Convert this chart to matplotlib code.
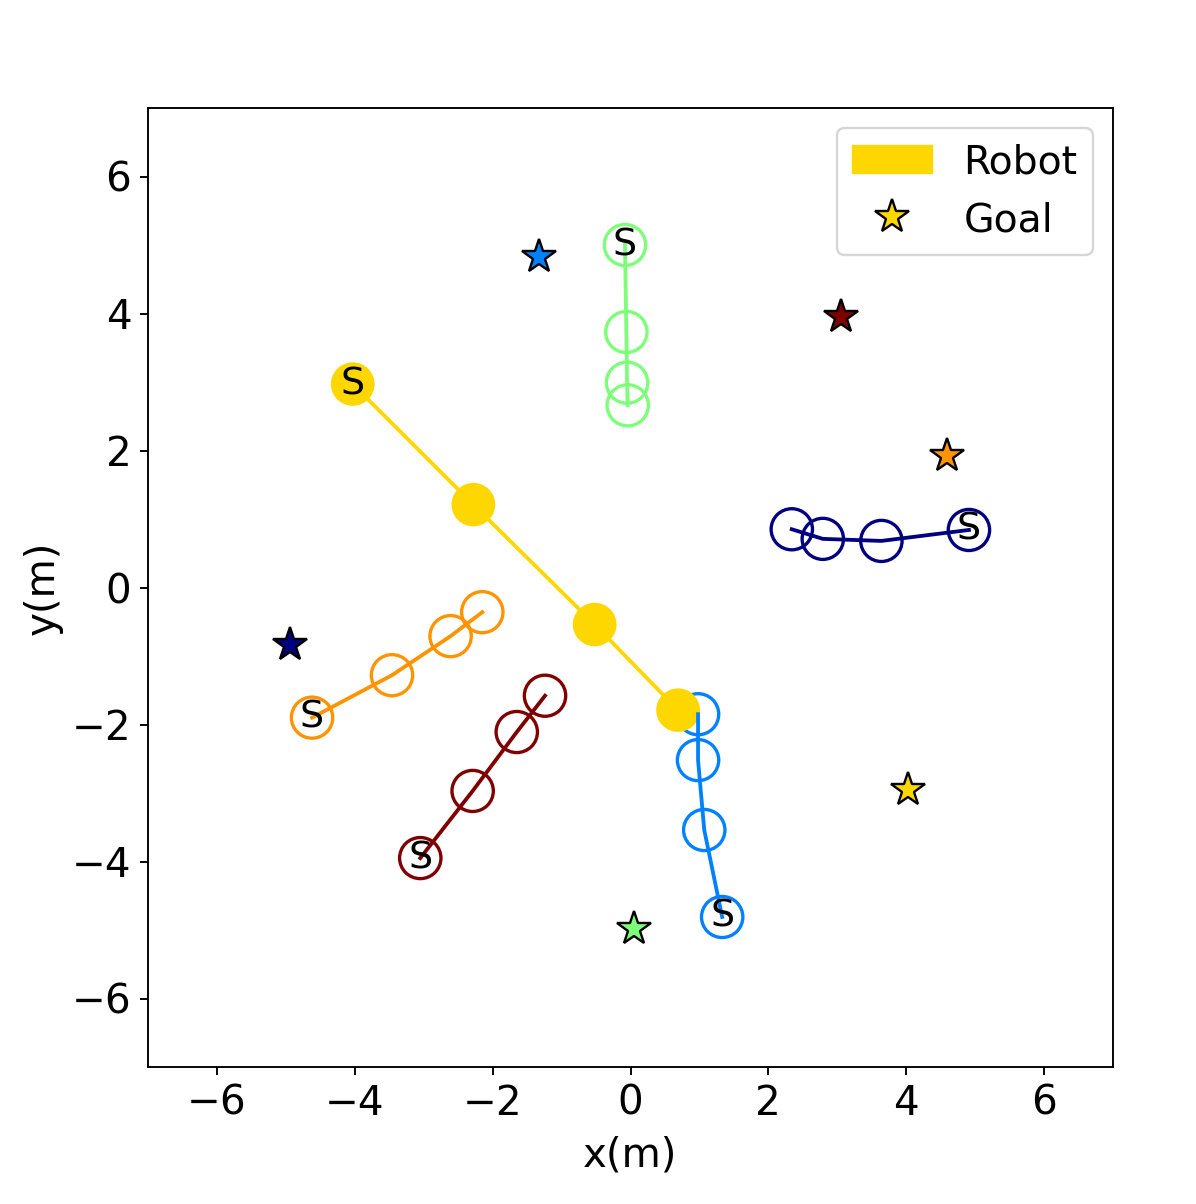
import numpy as np
import matplotlib
matplotlib.use('Agg')
import matplotlib.pyplot as plt
import matplotlib.lines as mlines
import matplotlib.patches as mpatches

# robot trajectory (recorded positions) and goal
robot_x = [-4.03, -2.28, -0.52, 0.69]
robot_y = [2.97, 1.21, -0.54, -1.79]
robot_goal = (4.02, -2.95)

# human trajectories, first point is the start
human_x = [
    [4.91, 3.64, 2.79, 2.34],
    [1.33, 1.07, 0.98, 0.98],
    [-0.08, -0.06, -0.05, -0.04],
    [-4.62, -3.46, -2.61, -2.15],
    [-3.05, -2.29, -1.65, -1.24],
]
human_y = [
    [0.84, 0.68, 0.71, 0.85],
    [-4.81, -3.54, -2.52, -1.85],
    [5.00, 3.73, 2.99, 2.66],
    [-1.90, -1.28, -0.71, -0.36],
    [-3.95, -2.97, -2.11, -1.58],
]
human_goal_x = [-4.94, -1.33, 0.05, 4.59, 3.05]
human_goal_y = [-0.84, 4.82, -4.99, 1.92, 3.95]

radius = 0.3
robot_color = 'gold'
cmap = plt.get_cmap('jet')
colors = [cmap(v) for v in np.linspace(0, 1, len(human_x))]

fig = plt.figure(figsize=(1196 / 171, 1204 / 171), dpi=171)
ax = fig.add_axes([148 / 1196, 1 - 1067 / 1204, 965 / 1196, 959 / 1204])
ax.set_xlim(-7, 7)
ax.set_ylim(-7, 7)
ax.tick_params(labelsize=17)
ax.set_xlabel('x(m)', fontsize=17, labelpad=5)
ax.set_ylabel('y(m)', fontsize=17, labelpad=4)

# humans
for i in range(len(human_x)):
    c = colors[i]
    for x, y in zip(human_x[i], human_y[i]):
        ax.add_patch(plt.Circle((x, y), radius, fill=False, color=c, linewidth=1.4))
    ax.plot(human_x[i], human_y[i], color=c, linewidth=1.6)
    ax.plot(human_goal_x[i], human_goal_y[i], marker='*', color=c,
            markeredgecolor='black', markersize=15, linestyle='None')
    ax.text(human_x[i][0], human_y[i][0], 'S', fontsize=16, ha='center', va='center')

# robot
for x, y in zip(robot_x, robot_y):
    ax.add_patch(plt.Circle((x, y), radius, fill=True, color=robot_color))
ax.plot(robot_x, robot_y, color=robot_color, linewidth=1.6)
ax.text(robot_x[0], robot_y[0], 'S', fontsize=16, ha='center', va='center')
goal = mlines.Line2D([robot_goal[0]], [robot_goal[1]], color=robot_color, marker='*',
                     linestyle='None', markersize=15, markeredgecolor='black', label='Goal')
ax.add_artist(goal)

robot_patch = mpatches.Patch(color=robot_color)
ax.legend([robot_patch, goal], ['Robot', 'Goal'], fontsize=16.6, loc='upper right',
          borderaxespad=0.5)

fig.savefig('out.png', dpi=171)
